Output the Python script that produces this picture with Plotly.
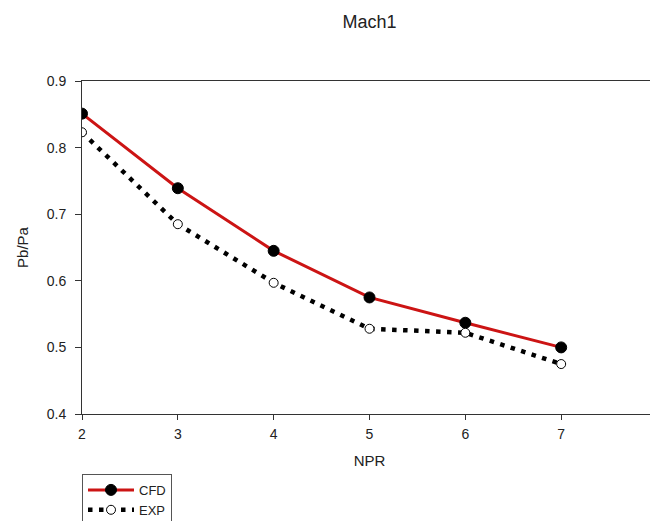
import plotly.graph_objects as go

npr = [2, 3, 4, 5, 6, 7]
cfd = [0.851, 0.739, 0.645, 0.575, 0.537, 0.500]
exp = [0.823, 0.685, 0.597, 0.528, 0.522, 0.475]

x_ticks = [2, 3, 4, 5, 6, 7, 8]
y_ticks = [0.4, 0.5, 0.6, 0.7, 0.8, 0.9]

FONT = "Liberation Sans, Arial, sans-serif"

# the page body has an 8px margin, so the figure is drawn at (8, 8)
W, H = 650, 513

fig = go.Figure()
fig.add_trace(go.Scatter(
    x=npr, y=cfd, name="CFD", mode="lines+markers",
    line=dict(color="#cc1414", width=3),
    marker=dict(symbol="circle", size=11, color="black", line=dict(color="black", width=1)),
))
fig.add_trace(go.Scatter(
    x=npr, y=exp, name="EXP", mode="lines+markers",
    line=dict(color="black", width=4.5, dash="4.5px,6.5px"),
    marker=dict(symbol="circle", size=9, color="white", line=dict(color="black", width=1)),
))

fig.update_layout(
    width=W, height=H,
    margin=dict(l=74, r=1, t=73, b=107, autoexpand=False),
    paper_bgcolor="white", plot_bgcolor="white",
    font=dict(family=FONT, color="#222", size=14),
    title=dict(text="Mach1", xref="paper", x=0.5, xanchor="center",
               yref="container", y=1 - 14 / H, yanchor="middle",
               font=dict(size=18, family=FONT, color="#222")),
    showlegend=True,
    legend=dict(x=0, y=-0.18, xanchor="left", yanchor="top",
                bordercolor="#555", borderwidth=1, bgcolor="white",
                font=dict(size=13, family=FONT, color="#222"),
                itemwidth=46, tracegroupgap=0),
    xaxis=dict(range=[2, 8], tickvals=x_ticks, ticktext=[str(v) for v in x_ticks],
               automargin=False, ticklabeloverflow="allow",
               showgrid=False, zeroline=False, showline=True, linecolor="#333", linewidth=1,
               mirror=True, ticks="outside", ticklen=5, tickcolor="#333",
               ticklabelstandoff=2,
               title=dict(text="NPR", font=dict(size=15, family=FONT, color="#222"), standoff=14)),
    yaxis=dict(range=[0.4, 0.9], tickvals=y_ticks, ticktext=[f"{v:.1f}" for v in y_ticks],
               automargin=False, ticklabeloverflow="allow",
               showgrid=False, zeroline=False, showline=True, linecolor="#333", linewidth=1,
               ticks="outside", ticklen=6, tickcolor="#333",
               ticklabelstandoff=6,
               title=dict(text="Pb/Pa", font=dict(size=15, family=FONT, color="#222"), standoff=14)),
)

fig.write_html("out.html")
